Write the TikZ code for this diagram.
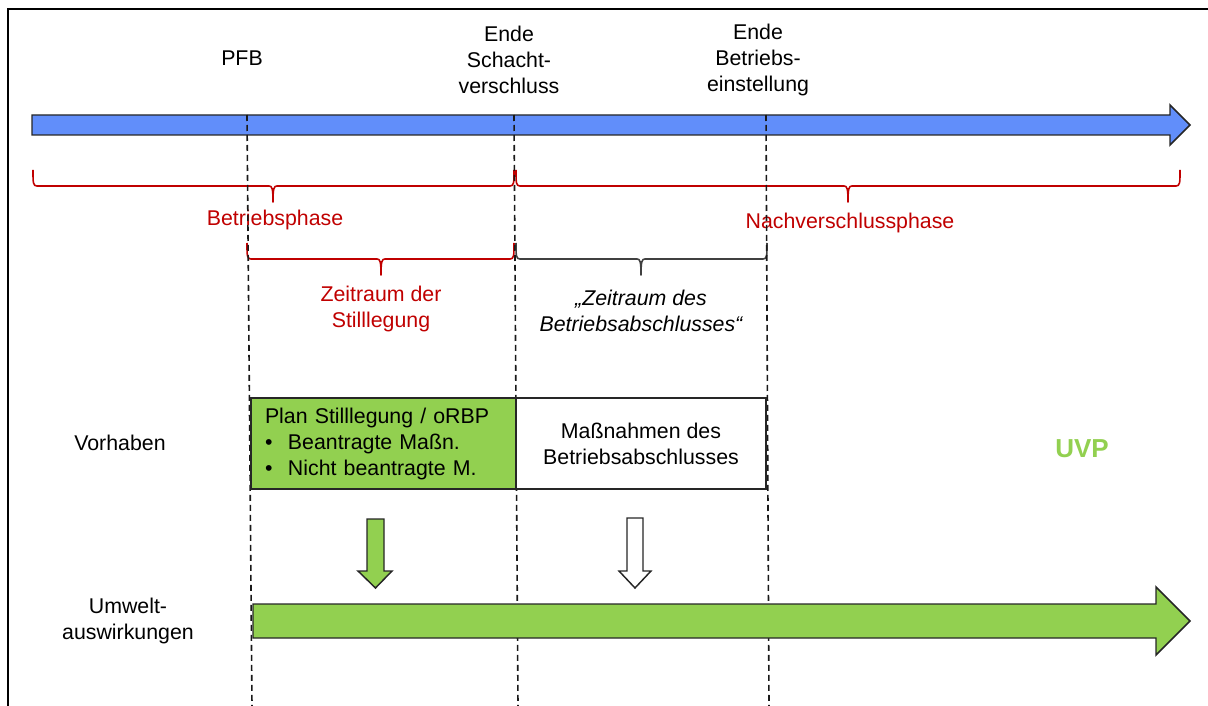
\documentclass[tikz,border=0pt]{standalone}
\usepackage{fontspec}
\setmainfont{Liberation Sans}
\definecolor{tlblue}{RGB}{97,142,250}
\definecolor{uvgreen}{RGB}{146,208,80}
\definecolor{brred}{RGB}{192,0,0}
\definecolor{brgray}{RGB}{64,64,64}
\newcommand\mybrace[5]{%
  \draw[#5,line width=1.2pt,line join=round] (#1,#4-16) .. controls (#1,#4-3) and (#1,#4) .. (#1+4,#4)
    -- (#3-4,#4) .. controls (#3-1,#4) and (#3,#4+2) .. (#3,#4+16)
    .. controls (#3,#4+2) and (#3+1,#4) .. (#3+4,#4)
    -- (#2-4,#4) .. controls (#2,#4) and (#2,#4-3) .. (#2,#4-16);}
\begin{document}
\begin{tikzpicture}[x=0.75pt,y=-0.75pt,
  every node/.style={font=\fontsize{16}{19.5}\selectfont,inner sep=0pt,align=center},
  lbl/.style={text=black},
  redlbl/.style={text=brred},
  vline/.style={draw=black!90,line width=1.2pt,dash pattern=on 4.5pt off 3pt},
  shapeline/.style={draw=black!85,line width=1.1pt,line join=miter}]
\useasboundingbox (0,0) rectangle (1208,706);
% frame
\draw[line width=1.5pt] (8,706) -- (8,9) -- (1208,9);
% blue timeline
\draw[shapeline,fill=tlblue] (32,115) -- (1170,115) -- (1170,105) -- (1190,125) -- (1170,145) -- (1170,135) -- (32,135) -- cycle;
% milestone labels
\node[lbl] (pfb) at (242,58) {PFB};
\node[lbl] (schacht) at (509,60) {Ende\\Schacht-\\verschluss};
\node[lbl] (betrieb) at (758,60) {Ende\\Betriebs-\\einstellung};
% braces
\mybrace{33}{514}{273}{186}{brred}
\mybrace{516}{1180}{848}{186}{brred}
\mybrace{247}{514}{381}{259}{brred}
\mybrace{516}{767}{641}{259}{brgray}
\node[redlbl] (bphase) at (275,220) {Betriebsphase};
\node[redlbl] (nphase) at (850,223) {Nachverschlussphase};
\node[redlbl] (zstill) at (381,309) {Zeitraum der\\Stilllegung};
\node[lbl,font=\fontsize{16}{19.5}\selectfont\itshape] (zbetr) at (641,311) {„Zeitraum des\\Betriebsabschlusses“};
% dashed verticals
\coordinate (d1t) at (247,115); \coordinate (d1b) at (252,706);
\coordinate (d2t) at (514,115); \coordinate (d2b) at (518,706);
\coordinate (d3t) at (766,115); \coordinate (d3b) at (769,706);
\draw[vline] (d1t) -- (d1b);
\draw[vline] (d2t) -- (d2b);
\draw[vline] (d3t) -- (d3b);
% boxes
\node[shapeline,fill=uvgreen,minimum width=198.75pt,minimum height=68.25pt,text width=177.75pt,align=left] (plan) at (383.5,443.5)
  {Plan Stilllegung / oRBP\\\makebox[17.25pt][l]{\textbullet}Beantragte Maßn.\\\makebox[17.25pt][l]{\textbullet}Nicht beantragte M.};
\node[shapeline,fill=white,minimum width=187.5pt,minimum height=68.25pt] (mass) at (641,443.5)
  {Maßnahmen des\\Betriebsabschlusses};
% row labels
\node[lbl] (vorh) at (120,443) {Vorhaben};
\node[lbl] (umw) at (128,621) {Umwelt-\\auswirkungen};
\node[text=uvgreen,font=\fontsize{19.5}{22}\selectfont\bfseries] (uvp) at (1082,449) {UVP};
% small down arrows
\draw[shapeline,fill=uvgreen] (367,519) -- (384,519) -- (384,571) -- (392,571) -- (375.5,588) -- (358,571) -- (367,571) -- cycle;
\draw[shapeline,fill=white] (627,518) -- (643,518) -- (643,571) -- (651,571) -- (635,588) -- (619,571) -- (627,571) -- cycle;
% green effect arrow
\draw[shapeline,fill=uvgreen] (253,604) -- (1156,604) -- (1156,587) -- (1190,621) -- (1156,655) -- (1156,638) -- (253,638) -- cycle;
\end{tikzpicture}
\end{document}
